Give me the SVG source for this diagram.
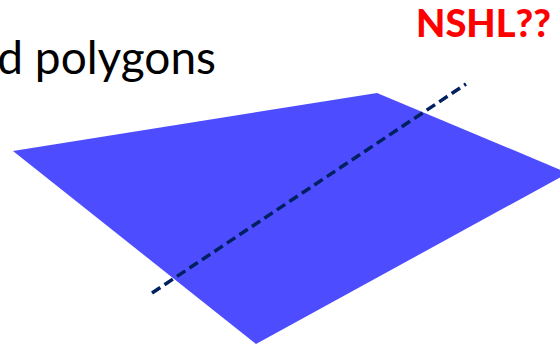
<svg xmlns="http://www.w3.org/2000/svg" width="560" height="345" viewBox="0 0 560 345">
<style>
.title{font-family:Lato,"Open Sans","Liberation Sans",sans-serif;font-size:46px;fill:#000}
.note{font-family:Lato,"Open Sans","Liberation Sans",sans-serif;font-size:38px;font-weight:900;fill:#ff0000}
</style>
<rect width="560" height="345" fill="#fff"/>
<g id="polygon">
<polygon points="13,151 377,93 568,173 256,344" fill="#4d4dff"/>
</g>
<g id="connectors">
<line x1="152" y1="293" x2="466" y2="84" stroke="#002060" stroke-width="3.5" stroke-dasharray="10,5"/>
</g>
<text class="title" x="216" y="74" text-anchor="end">d polygons</text>
<text class="note" x="416" y="37">NSHL??</text>
</svg>
